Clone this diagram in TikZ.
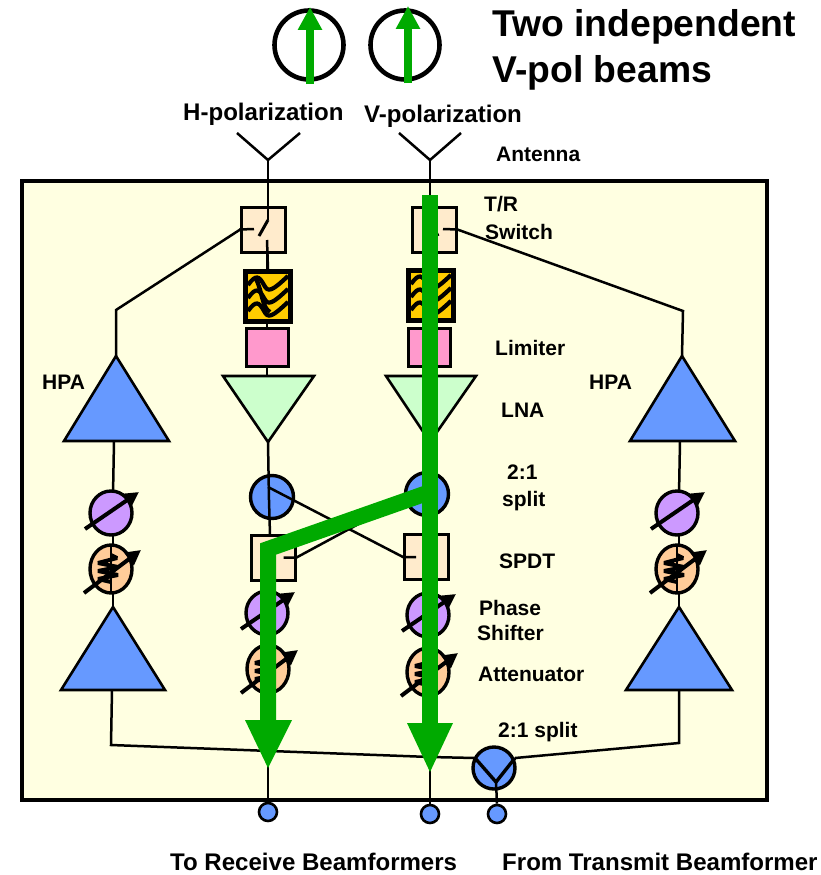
\documentclass[tikz,border=0pt]{standalone}
\usepackage{fontspec}
\setmainfont{Liberation Sans}
\usetikzlibrary{arrows.meta,shapes.geometric}
\definecolor{bgy}{HTML}{FFFFE1}
\definecolor{boxc}{HTML}{FFEBCC}
\definecolor{pinkc}{HTML}{FF99CC}
\definecolor{purc}{HTML}{CC99FF}
\definecolor{peach}{HTML}{FFCC99}
\definecolor{bluec}{HTML}{6699FF}
\definecolor{lnac}{HTML}{CCFFCC}
\definecolor{yelc}{HTML}{FFCC00}
\definecolor{grn}{HTML}{00AA00}
\tikzset{
 wire/.style={line width=2.5pt,line cap=butt},
 swbox/.style={draw,line width=3pt,fill=boxc,minimum width=44pt,minimum height=45pt,inner sep=0},
 filtbox/.style={draw,line width=5pt,fill=yelc,minimum width=45pt,minimum height=50pt,inner sep=0},
 limbox/.style={draw,line width=3pt,fill=pinkc,minimum width=42pt,minimum height=38pt,inner sep=0},
 tri/.style={draw,line width=2.6pt,line join=miter},
 disc/.style={draw,circle,line width=3.4pt,inner sep=0},
 elli/.style={draw,ellipse,line width=3.4pt,inner sep=0},
 lab/.style={anchor=base west,inner sep=0,font=\fontsize{21}{21}\selectfont\bfseries},
 labb/.style={anchor=base west,inner sep=0,font=\fontsize{24.05}{24}\selectfont\bfseries},
 labt/.style={anchor=base west,inner sep=0,font=\fontsize{37.3}{37}\selectfont\bfseries},
 tune/.style={line width=4pt,-{Triangle[length=15pt,width=15pt]}},
 grnline/.style={draw=grn,line width=16pt,line join=miter},
 polring/.style={draw,circle,line width=4.6pt,minimum size=69pt,inner sep=0},
 polarrow/.style={draw=grn,line width=8pt,-{Triangle[length=23pt,width=23pt]}},
 termdot/.style={draw,circle,line width=2.6pt,fill=bluec,minimum size=18pt,inner sep=0}
}
\newcommand{\phsh}[3]{%
 \node[elli,fill=purc,minimum width=42pt,minimum height=44pt] (#1) at (#2,#3) {};
 \draw[tune] (#2-26,#3+16) -- (#2+28,#3-21);
}
\newcommand{\attn}[3]{%
 \node[elli,fill=peach,minimum width=42pt,minimum height=48pt] (#1) at (#2,#3) {};
 \draw[line width=4pt,line join=bevel] (#2,#3-14) -- (#2+6,#3-11) -- (#2-13,#3-6) -- (#2+7,#3-2) -- (#2-13,#3+2) -- (#2+7,#3+6) -- (#2-13,#3+10) -- (#2,#3+13);
 \draw[wire] (#2,#3-24) -- (#2,#3+24);
 \draw[tune] (#2-27,#3+24) -- (#2+30,#3-19);
}
\newcommand{\wavy}[2]{%
 \foreach \dy in {0,13,26} {
  \draw[line width=4.2pt] (#1-20,#2-11+\dy) .. controls (#1-12,#2-22+\dy) and (#1-9,#2-20+\dy) .. (#1-4,#2-11+\dy)
    .. controls (#1,#2-3+\dy) and (#1+4,#2-5+\dy) .. (#1+20,#2-20+\dy);
 }
}
\begin{document}
\begin{tikzpicture}[x=1pt,y=-1pt]
\useasboundingbox (0,0) rectangle (821,875);
\fill[white] (0,0) rectangle (821,875);
\node[draw,line width=3.8pt,fill=bgy,minimum width=745pt,minimum height=619pt,inner sep=0] (frame) at (394.5,490.5) {};

% polarisation symbols
\node[polring] (ringa) at (309,45) {};
\node[polring] (ringb) at (405,45) {};
\coordinate (aa1) at (310,84); \coordinate (aa2) at (310,7);
\coordinate (ab1) at (408,83); \coordinate (ab2) at (408,6);
\draw[polarrow] (aa1) -- (aa2);
\draw[polarrow] (ab1) -- (ab2);

% antennas
\coordinate (anth) at (268,160);
\coordinate (antv) at (430,160);
\coordinate (anthl) at (237,133); \coordinate (anthr) at (300,133);
\coordinate (antvl) at (399,133); \coordinate (antvr) at (461,133);
\draw[wire] (anthl) -- (anth) -- (anthr);
\draw[wire] (antvl) -- (antv) -- (antvr);

% triangles
\coordinate (hpa1t) at (116,356); \coordinate (hpa1l) at (64,441); \coordinate (hpa1r) at (169,441);
\coordinate (hpa2t) at (113,607); \coordinate (hpa2l) at (61,690); \coordinate (hpa2r) at (165,690);
\coordinate (hpa3t) at (682,356); \coordinate (hpa3l) at (630,441); \coordinate (hpa3r) at (735,441);
\coordinate (hpa4t) at (679,607); \coordinate (hpa4l) at (626,690); \coordinate (hpa4r) at (732,690);
\coordinate (lna1b) at (268,442); \coordinate (lna1l) at (223,376); \coordinate (lna1r) at (314,376);
\coordinate (lna2b) at (430,442); \coordinate (lna2l) at (386,376); \coordinate (lna2r) at (476,376);

% wires beneath the blocks
\coordinate (bendl) at (116,310); \coordinate (bendr) at (683,311);
\coordinate (busl) at (111,745); \coordinate (busr) at (679,743); \coordinate (busm) at (430,757);
\coordinate (hpa2b) at (112,690); \coordinate (hpa4b) at (679,690);
\coordinate (swlc) at (241,229); \coordinate (swrc) at (456,229);
\draw[wire] (swlc) -- (bendl) -- (hpa1t);
\draw[wire] (swrc) -- (bendr) -- (hpa3t);
\draw[wire] (114,441) -- (113,495);
\draw[wire] (113,536) -- (113,607);
\draw[wire] (680,441) -- (679,495);
\draw[wire] (679,536) -- (679,607);
\draw[wire] (anth) -- (268,220);
\draw[wire] (antv) -- (430,220);
\draw[wire] (267,240) -- (267,376);
\draw[wire] (430,240) -- (430,376);

% blocks
\node[swbox] (swl) at (263,229.5) {};
\node[swbox] (swr) at (434,229.5) {};
\node[filtbox] (fltl) at (268,296.5) {};
\node[filtbox] (fltr) at (430.5,295.5) {};
\node[limbox] (liml) at (267,347) {};
\node[limbox] (limr) at (429,347) {};
\filldraw[fill=bluec,tri] (hpa1t) -- (hpa1l) -- (hpa1r) -- cycle;
\filldraw[fill=bluec,tri] (hpa2t) -- (hpa2l) -- (hpa2r) -- cycle;
\filldraw[fill=bluec,tri] (hpa3t) -- (hpa3l) -- (hpa3r) -- cycle;
\filldraw[fill=bluec,tri] (hpa4t) -- (hpa4l) -- (hpa4r) -- cycle;
\filldraw[fill=lnac,tri] (lna1b) -- (lna1l) -- (lna1r) -- cycle;
\filldraw[fill=lnac,tri] (lna2b) -- (lna2l) -- (lna2r) -- cycle;
\node[disc,fill=bluec,minimum size=43pt] (spl) at (272,497) {};
\node[disc,fill=bluec,minimum size=43pt] (spr) at (427,494) {};
\node[swbox] (spdtl) at (273,557.5) {};
\node[swbox] (spdtr) at (426.5,557) {};

% switch details
\draw[wire] (268,181) -- (268,220);
\draw[line width=3pt] (268,220) -- (259,236);
\draw[wire] (swl.west) -- (254,229);
\draw[wire] (267,240) -- (fltl.north);
\draw[wire] (430,181) -- (430,220);
\draw[line width=3pt] (430,220) -- (438,236);
\draw[wire] (swr.east) -- (443,229);
\draw[wire] (430,240) -- (fltr.north);
\draw[wire] (liml.south) -- (lna1l -| liml);
\draw[wire] (limr.south) -- (lna2l -| limr);
\wavy{268}{296}
\draw[line width=4.2pt] (256,279) .. controls (262,290) and (262,308) .. (270,312);
\wavy{431}{295}

% splits and cross connections
\coordinate (xa) at (268,487);
\coordinate (xb) at (427,487);
\draw[wire] (lna1b) -- (269,500) -- (270,535);
\draw[wire] (lna2b) -- (430,500) -- (430,534);
\draw[wire] (xa) -- (spdtr.west) -- +(13,0);
\draw[wire] (xb) -- (spdtl.east) -- +(-13,0);

% right-hand and left-hand chains
\phsh{ps1}{111}{513}
\attn{at1}{111}{569}
\phsh{ps3}{677}{513}
\attn{at3}{677}{569}
\draw[wire] (267,580) -- (267,592);
\draw[wire] (428,580) -- (428,594);
\phsh{ps2}{267}{613}
\attn{at2}{268}{669}
\phsh{ps4}{428}{615}
\attn{at4}{428}{672}

% transmit combiner bus
\node[disc,fill=bluec,minimum size=42pt] (comb) at (494,768) {};
\node[termdot] (t1) at (268,812) {};
\node[termdot] (t2) at (430,814) {};
\node[termdot] (t3) at (497,814) {};
\coordinate (cl) at (475,758); \coordinate (cm) at (496,782); \coordinate (cr) at (515,758);
\draw[wire] (hpa2b) -- (busl) -- (busm) -- (cl);
\draw[wire] (hpa4b) -- (busr) -- (cr);
\draw[line width=3.4pt] (cl) -- (cm) -- (cr);
\draw[wire] (cm) -- (t3.north);
\draw[wire] (268,760) -- (t1.north);
\draw[wire] (430,765) -- (t2.north);

% green signal paths
\coordinate (g1s) at (430,195); \coordinate (g1e) at (430,725);
\coordinate (g2s) at (430,492); \coordinate (g2e) at (268,722);
\path[grnline] (g1s) -- (g1e);
\path[grnline] (g2s) -- (268,549) -- (g2e);
\fill[grn] (407,723) -- (453,723) -- (430,772) -- cycle;
\fill[grn] (245,720) -- (292,720) -- (268,768) -- cycle;

% labels
\node[labt] (t-a) at (492,37) {Two independent};
\node[labt] (t-b) at (492,82) {V-pol beams};
\node[labb] (l-h) at (183,120) {H-polarization};
\node[labb] (l-v) at (364,122) {V-polarization};
\node[lab] (l-ant) at (496,161) {Antenna};
\node[lab] (l-tr) at (484,211) {T/R};
\node[lab] (l-sw) at (485,239) {Switch};
\node[lab] (l-lim) at (495,355) {Limiter};
\node[lab] (l-lna) at (501,417) {LNA};
\node[lab] (l-hpa1) at (42,389) {HPA};
\node[lab] (l-hpa2) at (589,389) {HPA};
\node[lab] (l-21a) at (507,479) {2:1};
\node[lab] (l-21b) at (502,506) {split};
\node[lab] (l-spdt) at (499,568) {SPDT};
\node[lab] (l-ph) at (479,615) {Phase};
\node[lab] (l-shf) at (477,640) {Shifter};
\node[lab] (l-att) at (478,681) {Attenuator};
\node[lab] (l-21c) at (498,737) {2:1 split};
\node[labb] (l-rx) at (170,870) {To Receive Beamformers};
\node[labb] (l-tx) at (502,870) {From Transmit Beamformer};
\end{tikzpicture}
\end{document}
